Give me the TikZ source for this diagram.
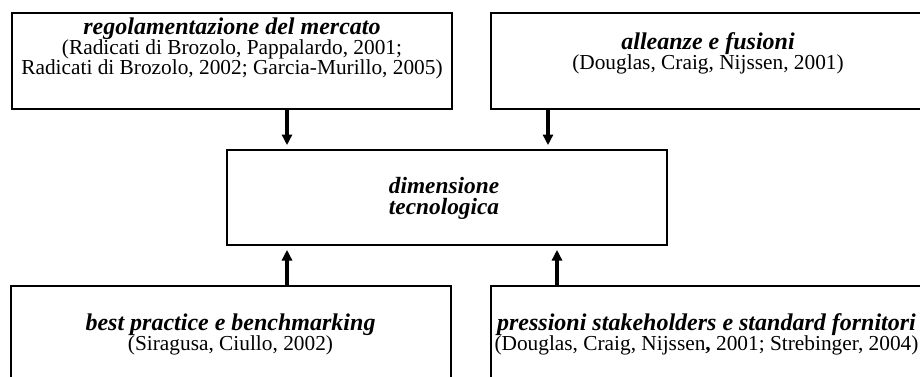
\documentclass[tikz,border=0pt]{standalone}
\usepackage{fontspec}
\setmainfont{Liberation Serif}
\usetikzlibrary{positioning,calc,arrows.meta}

\tikzset{
  box/.style={draw, line width=1.5pt, minimum width=330pt, minimum height=72pt, inner sep=0pt},
  lbl/.style={align=center, font=\fontsize{16}{15}\selectfont},
  arr/.style={line width=2.4pt, -{Triangle[width=7.5pt,length=8pt]}, shorten >=3pt},
}
\newcommand{\ttl}[1]{{\fontsize{18}{15}\selectfont\bfseries\itshape #1}}

\begin{document}
\begin{tikzpicture}[x=0.75pt,y=-0.75pt]
  \useasboundingbox (0,0) rectangle (920,376);

  % boxes
  \node[box] (reg) at (232,61) {};
  \node[lbl, below=0.5pt of reg.north] (regtxt) {\ttl{regolamentazione del mercato}\\
    (Radicati di Brozolo, Pappalardo, 2001;\\
    Radicati di Brozolo, 2002; Garcia-Murillo, 2005)};

  \node[box, minimum width=325pt] (all) at (708,61) {};
  \node[lbl] (alltxt) at ($(all.center)+(0,-8)$)
    {\ttl{alleanze e fusioni}\\(Douglas, Craig, Nijssen, 2001)};

  \node[box, minimum height=71pt] (tech) at (447,197.5) {};
  \node[align=center, font=\fontsize{17.5}{16.3}\selectfont\bfseries\itshape] (techtxt) at ($(tech.center)+(-3,1)$)
    {dimensione\\tecnologica};

  \node[box, lbl] (best) at (230.5,334)
    {\ttl{best practice e benchmarking}\\(Siragusa, Ciullo, 2002)};

  \node[box, lbl, minimum width=324pt] (pres) at (706.5,334)
    {\ttl{pressioni stakeholders e standard fornitori}\\
     (Douglas, Craig, Nijssen\textbf{,} 2001; Strebinger, 2004)};

  % arrows
  \coordinate (a1) at ($(reg.south)+(55,0)$);
  \coordinate (a2) at ($(all.south)+(-160,0)$);
  \coordinate (a3) at ($(best.north)+(56.5,0)$);
  \coordinate (a4) at ($(pres.north)+(-149.5,0)$);

  \draw[arr] (a1) -- (a1 |- tech.north);
  \draw[arr] (a2) -- (a2 |- tech.north);
  \draw[arr] (a3) -- (a3 |- tech.south);
  \draw[arr] (a4) -- (a4 |- tech.south);
\end{tikzpicture}
\end{document}
